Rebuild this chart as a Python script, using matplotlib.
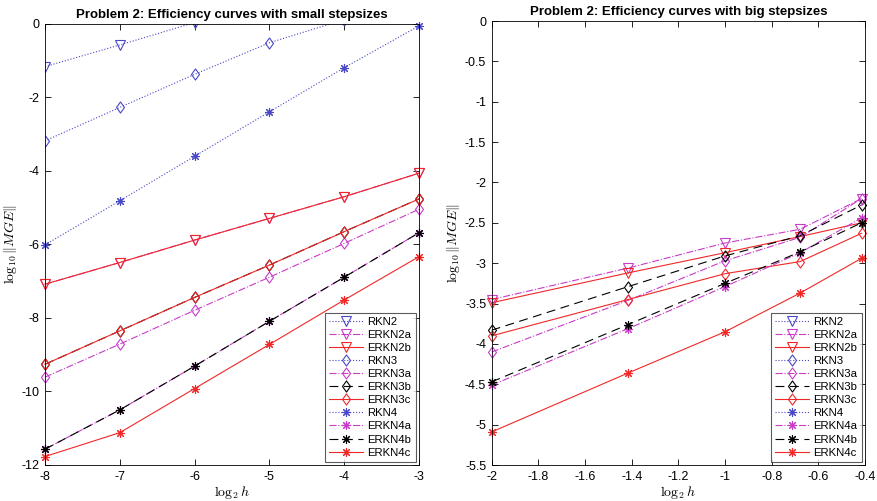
import numpy as np
import matplotlib
matplotlib.use("Agg")
import matplotlib.pyplot as plt
from matplotlib.ticker import FormatStrFormatter, FixedLocator
from matplotlib.path import Path

plt.rcParams['font.family'] = ['Liberation Sans', 'DejaVu Sans']
plt.rcParams['mathtext.fontset'] = 'cm'
plt.rcParams['axes.unicode_minus'] = False

names = ['RKN2', 'ERKN2a', 'ERKN2b', 'RKN3', 'ERKN3a', 'ERKN3b', 'ERKN3c',
         'RKN4', 'ERKN4a', 'ERKN4b', 'ERKN4c']

# Left panel: small stepsizes
x_small = [-8, -7, -6, -5, -4, -3]
small = {
    'RKN2':   [-1.16, -0.57, 0.04, 0.60, 1.20, 1.80],
    'ERKN2a': [-7.08, -6.49, -5.88, -5.29, -4.70, -4.06],
    'ERKN2b': [-7.08, -6.49, -5.88, -5.29, -4.70, -4.06],
    'RKN3':   [-3.18, -2.27, -1.37, -0.51, 0.12, 0.70],
    'ERKN3a': [-9.61, -8.71, -7.79, -6.89, -5.97, -5.04],
    'ERKN3b': [-9.26, -8.35, -7.44, -6.56, -5.65, -4.76],
    'ERKN3c': [-9.26, -8.35, -7.44, -6.56, -5.65, -4.76],
    'RKN4':   [-6.01, -4.81, -3.60, -2.39, -1.19, -0.05],
    'ERKN4a': [-11.57, -10.50, -9.31, -8.09, -6.89, -5.68],
    'ERKN4b': [-11.57, -10.50, -9.31, -8.09, -6.89, -5.68],
    'ERKN4c': [-11.77, -11.12, -9.92, -8.72, -7.51, -6.33],
}

# Right panel: big stepsizes
x_big = [-2.0, -1.415, -1.0, -0.678, -0.415]
big = {
    'RKN2':   [1.2, 1.6, 2.0, 2.3, 2.6],
    'ERKN2a': [-3.45, -3.06, -2.75, -2.58, -2.20],
    'ERKN2b': [-3.49, -3.12, -2.87, -2.67, -2.50],
    'RKN3':   [1.0, 1.5, 1.9, 2.2, 2.5],
    'ERKN3a': [-4.10, -3.46, -2.97, -2.68, -2.20],
    'ERKN3b': [-3.83, -3.29, -2.91, -2.66, -2.28],
    'ERKN3c': [-3.90, -3.45, -3.13, -2.98, -2.63],
    'RKN4':   [0.8, 1.3, 1.7, 2.0, 2.3],
    'ERKN4a': [-4.51, -3.81, -3.29, -2.87, -2.44],
    'ERKN4b': [-4.47, -3.76, -3.25, -2.86, -2.50],
    'ERKN4c': [-5.09, -4.36, -3.85, -3.37, -2.94],
}

blue = '#4848c8'
mag = '#c83cc8'
blk = '#000000'
red = '#f02828'

ast = (8, 2, 0)
diamond = Path([(0, 1), (0.72, 0), (0, -1), (-0.72, 0), (0, 1)],
               [Path.MOVETO, Path.LINETO, Path.LINETO, Path.LINETO, Path.CLOSEPOLY])
styles = {
    'RKN2':   dict(color=blue, ls=':', marker='v'),
    'ERKN2a': dict(color=mag, ls='-.', marker='v'),
    'ERKN2b': dict(color=red, ls='-', marker='v'),
    'RKN3':   dict(color=blue, ls=':', marker=diamond),
    'ERKN3a': dict(color=mag, ls='-.', marker=diamond),
    'ERKN3b': dict(color=blk, ls=(0, (8, 5)), marker=diamond),
    'ERKN3c': dict(color=red, ls='-', marker=diamond),
    'RKN4':   dict(color=blue, ls=':', marker=ast),
    'ERKN4a': dict(color=mag, ls='-.', marker=ast),
    'ERKN4b': dict(color=blk, ls=(0, (8, 5)), marker=ast),
    'ERKN4c': dict(color=red, ls='-', marker=ast),
}

fig = plt.figure(figsize=(8.77, 5.01), dpi=100)
W, H = 877, 501
axL = fig.add_axes([45 / W, 36 / H, 374 / W, 441 / H])
axR = fig.add_axes([491.7 / W, 36 / H, 373.3 / W, 444 / H])


def draw(ax, xs, data, ylim):
    for n in names:
        st = styles[n]
        vals = data[n]
        inside = all(ylim[0] <= v <= ylim[1] for v in vals)
        ms = 8 if st['marker'] is diamond else 6.5
        ax.plot(xs, vals, color=st['color'], linestyle=st['ls'], marker=st['marker'],
                markersize=ms, markerfacecolor='none', markeredgecolor=st['color'],
                markeredgewidth=0.8, linewidth=0.8, label=n, clip_on=not inside)
    ax.set_ylim(*ylim)
    ax.tick_params(direction='in', top=True, right=True, labelsize=9, length=4,
                   width=0.6, pad=4)
    for s in ax.spines.values():
        s.set_linewidth(0.6)
    ax.xaxis.set_major_formatter(FormatStrFormatter('%g'))
    ax.yaxis.set_major_formatter(FormatStrFormatter('%g'))
    ax.set_xlabel(r'$\log_2 h$', fontsize=10, labelpad=1)
    ax.set_ylabel(r'$\log_{10}\|MGE\|$', fontsize=10, labelpad=2)
    leg = ax.legend(loc='lower right', fontsize=8.2, frameon=True, fancybox=False,
                    borderaxespad=0.3, handlelength=3.0, labelspacing=0.27,
                    borderpad=0.35, handletextpad=0.4)
    leg.get_frame().set_edgecolor('#333333')
    leg.get_frame().set_linewidth(0.8)
    leg.set_zorder(5)


draw(axL, x_small, small, (-12, 0))
axL.set_xlim(-8, -3)
axL.xaxis.set_major_locator(FixedLocator([-8, -7, -6, -5, -4, -3]))
axL.yaxis.set_major_locator(FixedLocator([-12, -10, -8, -6, -4, -2, 0]))
axL.set_title('Problem 2: Efficiency curves with small stepsizes', fontsize=9.5,
              fontweight='bold', pad=4)

draw(axR, x_big, big, (-5.5, 0))
axR.set_xlim(-2, -0.4)
axR.xaxis.set_major_locator(FixedLocator(np.round(np.arange(-2, -0.39, 0.2), 1)))
axR.yaxis.set_major_locator(FixedLocator(np.round(np.arange(-5.5, 0.01, 0.5), 1)))
axR.set_title('Problem 2: Efficiency curves with big stepsizes', fontsize=9.5,
              fontweight='bold', pad=4)

fig.savefig('out.png', dpi=100)
